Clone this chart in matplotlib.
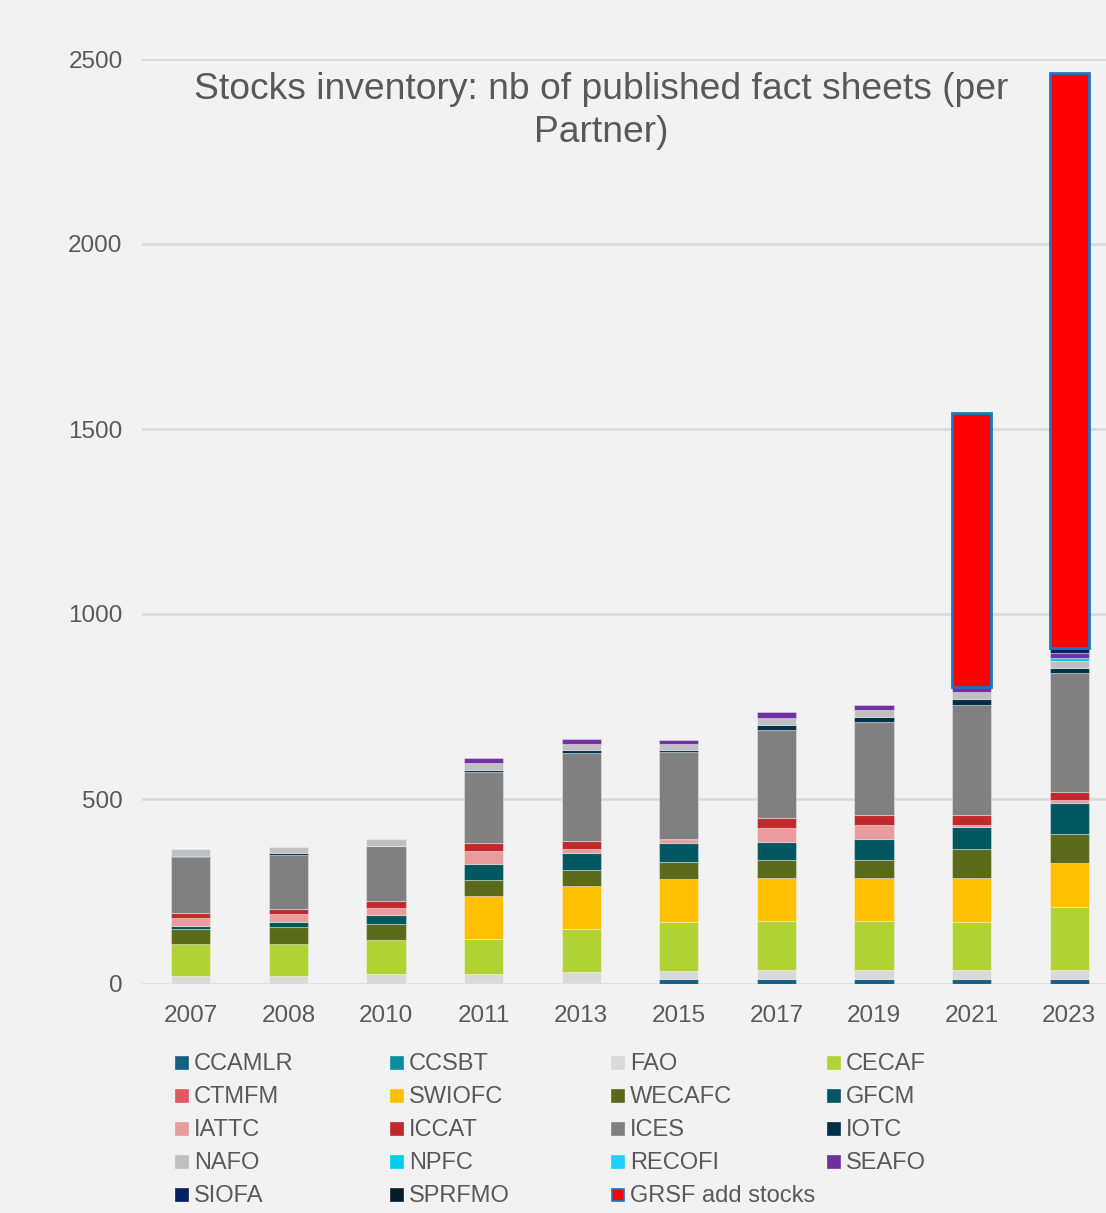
import matplotlib.pyplot as plt
import matplotlib.patches as mpatches
import numpy as np

plt.rcParams.update({"font.family": ["Liberation Sans", "DejaVu Sans"]})

years = ["2007", "2008", "2010", "2011", "2013", "2015", "2017", "2019", "2021", "2023"]

# values per partner, one per year
ccamlr = [0, 0, 0, 0, 0, 14, 14, 14, 14, 14]
ccsbt = [0, 0, 0, 2, 2, 0, 0, 0, 0, 0]
fao = [22, 22, 28, 26, 30, 22, 23, 23, 23, 23]
cecaf = [86, 86, 90, 93, 116, 132, 132, 132, 131, 171]
ctmfm = [0, 0, 0, 0, 0, 0, 0, 0, 0, 0]
swiofc = [0, 0, 0, 117, 116, 117, 117, 117, 118, 119]
wecafc = [41, 45, 44, 44, 44, 44, 50, 50, 78, 79]
gfcm = [8, 14, 25, 41, 47, 51, 48, 56, 59, 82]
iattc = [22, 22, 19, 37, 11, 9, 38, 37, 7, 8]
iccat = [14, 14, 19, 22, 20, 2, 27, 28, 28, 22]
ices = [149, 145, 147, 191, 238, 235, 237, 250, 297, 323]
iotc = [5, 5, 2, 5, 9, 6, 15, 15, 14, 14]
nafo = [18, 16, 19, 18, 15, 18, 19, 18, 19, 19]
npfc = [0, 0, 0, 0, 0, 0, 0, 0, 0, 8]
recofi = [0, 0, 0, 0, 0, 0, 0, 0, 0, 0]
seafo = [0, 0, 0, 14, 13, 10, 14, 14, 14, 13]
siofa = [0, 0, 0, 0, 0, 0, 0, 0, 0, 14]
sprfmo = [0, 0, 0, 0, 0, 0, 0, 0, 0, 0]
grsf = [0, 0, 0, 0, 0, 0, 0, 0, 740, 1552]

names = ["CCAMLR", "CCSBT", "FAO", "CECAF", "CTMFM", "SWIOFC", "WECAFC", "GFCM",
         "IATTC", "ICCAT", "ICES", "IOTC", "NAFO", "NPFC", "RECOFI", "SEAFO",
         "SIOFA", "SPRFMO", "GRSF add stocks"]
series = [ccamlr, ccsbt, fao, cecaf, ctmfm, swiofc, wecafc, gfcm, iattc, iccat,
          ices, iotc, nafo, npfc, recofi, seafo, siofa, sprfmo, grsf]
colors = ["#156082", "#0B8FA0", "#D9D9D9", "#B1D235", "#E05A5F", "#FFC000",
          "#5B6A1A", "#01575F", "#E99C9E", "#C0282C", "#808080", "#003049",
          "#BFBFBF", "#00CEE8", "#1DD1FF", "#7030A0", "#002060", "#061C2B",
          "#FF0000"]

bg = "#F2F2F2"
txt = "#595959"

fig = plt.figure(figsize=(11.06, 12.13), dpi=100, facecolor=bg)
W, H = 1106, 1213
ax = fig.add_axes([142 / W, 1 - 984 / H, 976 / W, 925 / H])
ax.set_facecolor(bg)

x = np.arange(len(years))
bottom = np.zeros(len(years))
for name, vals, col in zip(names, series, colors):
    vals = np.array(vals, dtype=float)
    m = vals > 0
    if name.startswith("GRSF"):
        ax.bar(x[m], vals[m], 0.4, bottom=bottom[m], color=col,
               edgecolor="#1B75C4", linewidth=2, zorder=3)
    elif m.any():
        ax.bar(x[m], vals[m], 0.4, bottom=bottom[m], color=col,
               edgecolor=(1, 1, 1, 0.35), linewidth=0.8, zorder=3)
    bottom += vals

ax.set_xlim(-0.5, len(years) - 0.5)
ax.set_ylim(0, 2500)
ax.set_yticks(np.arange(0, 2501, 500))
ax.grid(axis="y", color="#D9D9D9", linewidth=1.8, zorder=0)
ax.set_axisbelow(True)
for s in ax.spines.values():
    s.set_visible(False)
ax.set_xticks(x)
ax.set_xticklabels(years)
ax.tick_params(length=0, labelsize=17.5, colors=txt)
ax.tick_params(axis="x", pad=15)
ax.tick_params(axis="y", pad=14)

fig.text(601 / W, 1 - 111 / H,
         "Stocks inventory: nb of published fact sheets (per\nPartner)",
         ha="center", va="center", fontsize=26.8, color=txt, linespacing=1.3)

# legend, row by row in four columns
col_x = [176, 391, 612, 828]
row_y = [1063, 1096, 1129, 1162, 1195]
for i, (name, col) in enumerate(zip(names, colors)):
    r, c = divmod(i, 4)
    px, py = col_x[c], row_y[r]
    ec = "#1B75C4" if name.startswith("GRSF") else col
    fig.add_artist(mpatches.Rectangle((px / W, 1 - (py + 6) / H), 12 / W, 12 / H,
                                      transform=fig.transFigure, facecolor=col,
                                      edgecolor=ec, linewidth=1.2))
    fig.text((px + 18) / W, 1 - (py + 1) / H, name, ha="left", va="center",
             fontsize=17, color=txt)

fig.savefig("out.png", dpi=100, facecolor=bg)
